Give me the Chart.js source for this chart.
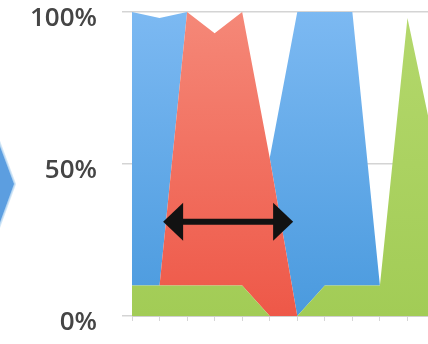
<!DOCTYPE html>
<html>
<head>
<meta charset="utf-8">
<script src="https://cdn.jsdelivr.net/npm/chart.js@4"></script>
<style>
  html, body { margin: 0; padding: 0; background: #ffffff; overflow: hidden; }
  #wrap { position: relative; width: 435px; height: 344px; }
</style>
</head>
<body>
<div id="wrap"><canvas id="chart"></canvas></div>
<script>
// Periods along the horizontal axis (no text labels, tick marks only)
const periods = ['1', '2', '3', '4', '5', '6', '7', '8', '9', '10', '11', '12'];

// Share of each layer per period, in percent (stacked bottom to top)
const greenShare = [10, 10, 10, 10, 10, 0, 0, 10, 10, 10, 98, 55];
const redShare   = [0, 0, 90, 83, 90, 52, 0, 0, 0, 0, 0, 0];
const blueShare  = [90, 88, 0, 0, 0, 0, 100, 90, 90, 0, 0, 0];

// Value-axis tick labels
const percentTicks = [0, 50, 100];

// Double-headed arrow: from period index to period index, at a percent level
const arrowFrom = 1.13;
const arrowTo = 5.85;
const arrowLevel = 31;

function vGradient(chart, top, bottom, fallback) {
  const area = chart.chartArea;
  if (!area) return fallback;
  const g = chart.ctx.createLinearGradient(0, area.top, 0, area.bottom);
  g.addColorStop(0, top);
  g.addColorStop(1, bottom);
  return g;
}

const arrowPlugin = {
  id: 'doubleArrow',
  afterDatasetsDraw(chart) {
    const { ctx, scales } = chart;
    const x1 = scales.x.getPixelForValue(arrowFrom);
    const x2 = scales.x.getPixelForValue(arrowTo);
    const y = scales.y.getPixelForValue(arrowLevel);
    const headLen = 20, headHalf = 19;
    ctx.save();
    ctx.fillStyle = '#121212';
    ctx.strokeStyle = '#121212';
    ctx.lineWidth = 6;
    ctx.beginPath();
    ctx.moveTo(x1 + headLen - 2, y);
    ctx.lineTo(x2 - headLen + 2, y);
    ctx.stroke();
    ctx.beginPath();
    ctx.moveTo(x1, y);
    ctx.lineTo(x1 + headLen, y - headHalf);
    ctx.lineTo(x1 + headLen, y + headHalf);
    ctx.closePath();
    ctx.fill();
    ctx.beginPath();
    ctx.moveTo(x2, y);
    ctx.lineTo(x2 - headLen, y - headHalf);
    ctx.lineTo(x2 - headLen, y + headHalf);
    ctx.closePath();
    ctx.fill();
    ctx.restore();
  }
};

// Tip of a blue chevron shape peeking in at the left margin
const chevronPlugin = {
  id: 'chevron',
  afterDraw(chart) {
    const { ctx } = chart;
    ctx.save();
    ctx.beginPath();
    ctx.moveTo(-4, 133);
    ctx.lineTo(15, 184);
    ctx.lineTo(-4, 236);
    ctx.closePath();
    ctx.fillStyle = '#5c9ee0';
    ctx.fill();
    ctx.lineWidth = 2;
    ctx.strokeStyle = 'rgba(200,225,245,0.8)';
    ctx.stroke();
    ctx.restore();
  }
};

new Chart(document.getElementById('chart'), {
  type: 'line',
  data: {
    labels: periods,
    datasets: [
      {
        label: 'Green',
        data: greenShare,
        fill: 'origin',
        backgroundColor: c => vGradient(c.chart, '#b4d86c', '#a2cc56', '#a8d05c'),
        borderWidth: 0,
        pointRadius: 0,
        tension: 0
      },
      {
        label: 'Red',
        data: redShare,
        fill: '-1',
        backgroundColor: c => vGradient(c.chart, '#f58878', '#ee5848', '#f16b5c'),
        borderWidth: 0,
        pointRadius: 0,
        tension: 0
      },
      {
        label: 'Blue',
        data: blueShare,
        fill: '-1',
        backgroundColor: c => vGradient(c.chart, '#7cb9f2', '#4a9ade', '#62a8ea'),
        borderWidth: 0,
        pointRadius: 0,
        tension: 0
      }
    ]
  },
  options: {
    responsive: true,
    maintainAspectRatio: false,
    animation: false,
    layout: { padding: { top: 12, left: 0, right: 0, bottom: 0 } },
    plugins: {
      legend: { display: false },
      tooltip: { enabled: false }
    },
    elements: { line: { borderWidth: 0 } },
    scales: {
      x: {
        type: 'category',
        offset: false,
        grid: {
          display: true,
          drawOnChartArea: false,
          drawTicks: true,
          tickLength: 5,
          color: '#d6d6d6'
        },
        border: { display: true, color: '#d0d0d0' },
        ticks: { display: false },
        afterFit: s => {
          s.height = 28;
          s.paddingLeft = 0;
          s.paddingRight = 0;
        }
      },
      y: {
        stacked: true,
        min: 0,
        max: 100,
        afterBuildTicks: s => { s.ticks = percentTicks.map(v => ({ value: v })); },
        grid: {
          color: '#d4d4d4',
          lineWidth: 1.5,
          drawTicks: true,
          tickLength: 10
        },
        border: { display: false },
        ticks: {
          padding: 25,
          labelOffset: 7,
          color: '#454545',
          font: { family: 'Open Sans', size: 26, weight: '600' },
          callback: v => v + '%'
        },
        afterFit: s => {
          s.width = 132;
          s.paddingTop = 0;
          s.paddingBottom = 0;
        }
      }
    }
  },
  plugins: [arrowPlugin, chevronPlugin]
});
</script>
</body>
</html>
